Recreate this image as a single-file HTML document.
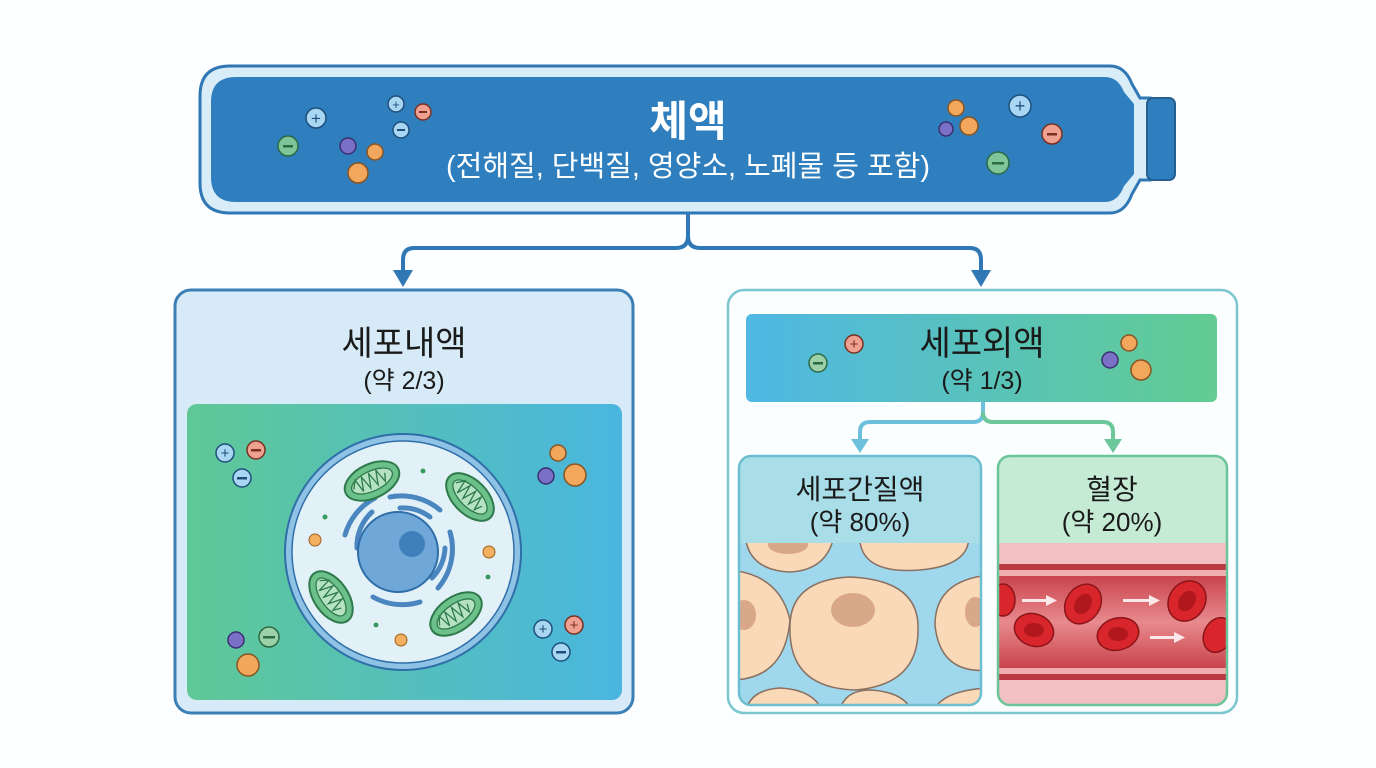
<!DOCTYPE html>
<html><head><meta charset="utf-8"><style>
html,body{margin:0;padding:0;background:#fdfeff;}
svg{display:block}
text{font-family:"Liberation Sans","Noto Sans CJK KR",sans-serif;}
</style></head><body>
<svg width="1376" height="768" viewBox="0 0 1376 768" xmlns="http://www.w3.org/2000/svg">
<defs>
<linearGradient id="gl" x1="0" x2="1"><stop offset="0" stop-color="#5fc896"/><stop offset="1" stop-color="#4ab6e0"/></linearGradient>
<linearGradient id="gh" x1="0" x2="1"><stop offset="0" stop-color="#4fb8e4"/><stop offset="1" stop-color="#62cc92"/></linearGradient>
<linearGradient id="gv" x1="0" y1="0" x2="0" y2="1"><stop offset="0" stop-color="#c9444c"/><stop offset="0.5" stop-color="#e88a8e"/><stop offset="1" stop-color="#c9444c"/></linearGradient>
<clipPath id="cellclip"><rect x="739" y="543" width="242" height="162"/></clipPath>
</defs>

<!-- Banner -->
<path d="M230,66 H1110 Q1125,66 1132,84 L1140,98 H1150 V180 H1140 L1132,194 Q1125,213 1110,213 H230 Q200,213 200,183 V96 Q200,66 230,66Z" fill="#d8edf8" stroke="#2f78b5" stroke-width="3"/>
<path d="M236,77 H1105 Q1118,77 1124,92 L1134,104 V174 L1124,186 Q1118,202 1105,202 H236 Q211,202 211,177 V102 Q211,77 236,77Z" fill="#2f7fbf"/>
<rect x="1147" y="98" width="28" height="82" rx="6" fill="#2f7fbf" stroke="#245f90" stroke-width="2"/>
<text x="688" y="136" text-anchor="middle" font-size="42" font-weight="bold" fill="#fff">체액</text>
<text x="688" y="176" text-anchor="middle" font-size="29" fill="#fff">(전해질, 단백질, 영양소, 노폐물 등 포함)</text>

<g stroke-width="1.5">
<circle cx="316" cy="118" r="10" fill="#a9d6f2" stroke="#1d4f7a"/><text x="316" y="124" text-anchor="middle" font-size="17" fill="#1d4f7a">+</text>
<circle cx="288" cy="146" r="10" fill="#7ec59a" stroke="#2c6a44"/><rect x="283" y="145" width="10" height="2.5" fill="#2c6a44"/>
<circle cx="396" cy="104" r="8" fill="#a9d6f2" stroke="#1d4f7a"/><text x="396" y="109" text-anchor="middle" font-size="13" fill="#1d4f7a">+</text>
<circle cx="423" cy="112" r="8" fill="#f0a090" stroke="#7a3020"/><rect x="419" y="111" width="8" height="2" fill="#7a3020"/>
<circle cx="401" cy="130" r="8" fill="#a9d6f2" stroke="#1d4f7a"/><rect x="397" y="129" width="8" height="2" fill="#1d4f7a"/>
<circle cx="348" cy="146" r="8" fill="#7a70c8" stroke="#3a3070"/>
<circle cx="375" cy="152" r="8" fill="#f2a85c" stroke="#8a5420"/>
<circle cx="358" cy="173" r="10" fill="#f2a85c" stroke="#8a5420"/>
<circle cx="956" cy="108" r="8" fill="#f2a85c" stroke="#8a5420"/>
<circle cx="946" cy="129" r="7" fill="#7a70c8" stroke="#3a3070"/>
<circle cx="969" cy="126" r="9" fill="#f2a85c" stroke="#8a5420"/>
<circle cx="1020" cy="106" r="11" fill="#a9d6f2" stroke="#1d4f7a"/><text x="1020" y="112" text-anchor="middle" font-size="18" fill="#1d4f7a">+</text>
<circle cx="1052" cy="134" r="10" fill="#f0a090" stroke="#7a3020"/><rect x="1047" y="133" width="10" height="2.5" fill="#7a3020"/>
<circle cx="998" cy="163" r="11" fill="#7ec59a" stroke="#2c6a44"/><rect x="992" y="162" width="12" height="2.5" fill="#2c6a44"/>
</g>

<!-- connector top -->
<path d="M688,213 V236 Q688,248 676,248 H414 Q403,248 403,260 V272" fill="none" stroke="#2f78b5" stroke-width="4"/>
<path d="M688,236 Q688,248 700,248 H970 Q981,248 981,260 V272" fill="none" stroke="#2f78b5" stroke-width="4"/>
<path d="M393,270 L413,270 L403,287Z" fill="#2f78b5"/>
<path d="M971,270 L991,270 L981,287Z" fill="#2f78b5"/>

<!-- Left panel -->
<rect x="175" y="290" width="458" height="423" rx="16" fill="#d6ebf7" stroke="#3a7fb6" stroke-width="3"/>
<text x="404" y="355" text-anchor="middle" font-size="34" fill="#1a1a1a">세포내액</text>
<text x="404" y="389" text-anchor="middle" font-size="25" fill="#1a1a1a">(약 2/3)</text>
<rect x="187" y="404" width="435" height="296" rx="10" fill="url(#gl)"/>
<ellipse cx="403" cy="552" rx="118" ry="118" fill="#8fc3e6" stroke="#2f6ea8" stroke-width="2"/>
<ellipse cx="403" cy="552" rx="111" ry="111" fill="#e2f1f8" stroke="#2f6ea8" stroke-width="1.5"/>
<g fill="none" stroke="#4a86c0" stroke-width="5" stroke-linecap="round">
<path d="M345,535 A60,60 0 0 1 375,498"/><path d="M357,548 A46,46 0 0 1 372,512"/>
<path d="M390,497 A60,60 0 0 1 440,510"/><path d="M400,508 A46,46 0 0 1 430,517"/>
<path d="M450,532 A60,60 0 0 1 438,588"/><path d="M445,548 A46,46 0 0 1 432,578"/>
<path d="M420,602 A60,60 0 0 1 373,597"/><path d="M410,588 A46,46 0 0 1 380,586"/>
</g>
<circle cx="398" cy="552" r="40" fill="#6fa8d8" stroke="#2f6ea8" stroke-width="2"/>
<circle cx="412" cy="544" r="13" fill="#3f7fbb"/>
<g fill="#6cc08a" stroke="#2e7a4a" stroke-width="2">
<ellipse cx="372" cy="481" rx="29" ry="17" transform="rotate(-25 372 481)"/>
<ellipse cx="470" cy="497" rx="29" ry="17" transform="rotate(45 470 497)"/>
<ellipse cx="331" cy="597" rx="29" ry="17" transform="rotate(55 331 597)"/>
<ellipse cx="456" cy="614" rx="29" ry="17" transform="rotate(-35 456 614)"/>
</g>
<g fill="#b6e2c4" stroke="#2e7a4a" stroke-width="1.3">
<g transform="rotate(-25 372 481)"><ellipse cx="372" cy="481" rx="22" ry="10"/><path d="M352,481 l5,-8 l3,14 l4,-14 l4,14 l4,-14 l4,14 l4,-14 l4,14 l3,-8" fill="none"/></g>
<g transform="rotate(45 470 497)"><ellipse cx="470" cy="497" rx="22" ry="10"/><path d="M450,497 l5,-8 l3,14 l4,-14 l4,14 l4,-14 l4,14 l4,-14 l4,14 l3,-8" fill="none"/></g>
<g transform="rotate(55 331 597)"><ellipse cx="331" cy="597" rx="22" ry="10"/><path d="M311,597 l5,-8 l3,14 l4,-14 l4,14 l4,-14 l4,14 l4,-14 l4,14 l3,-8" fill="none"/></g>
<g transform="rotate(-35 456 614)"><ellipse cx="456" cy="614" rx="22" ry="10"/><path d="M436,614 l5,-8 l3,14 l4,-14 l4,14 l4,-14 l4,14 l4,-14 l4,14 l3,-8" fill="none"/></g>
</g>
<g fill="#f2b060" stroke="#a06020" stroke-width="1"><circle cx="315" cy="540" r="6"/><circle cx="489" cy="552" r="6"/><circle cx="401" cy="640" r="6"/></g>
<g fill="#3a9a60"><circle cx="423" cy="471" r="2.5"/><circle cx="325" cy="517" r="2.5"/><circle cx="488" cy="577" r="2.5"/><circle cx="376" cy="625" r="2.5"/></g>
<g stroke-width="1.5">
<circle cx="225" cy="453" r="9" fill="#a9d6f2" stroke="#1d4f7a"/><text x="225" y="458" text-anchor="middle" font-size="15" fill="#1d4f7a">+</text>
<circle cx="256" cy="450" r="9" fill="#f0a090" stroke="#7a3020"/><rect x="251" y="449" width="10" height="2.5" fill="#7a3020"/>
<circle cx="242" cy="478" r="9" fill="#a9d6f2" stroke="#1d4f7a"/><rect x="237" y="477" width="10" height="2.5" fill="#1d4f7a"/>
<circle cx="558" cy="453" r="8" fill="#f2a85c" stroke="#8a5420"/>
<circle cx="546" cy="476" r="8" fill="#7a70c8" stroke="#3a3070"/>
<circle cx="575" cy="475" r="11" fill="#f2a85c" stroke="#8a5420"/>
<circle cx="236" cy="640" r="8" fill="#7a70c8" stroke="#3a3070"/>
<circle cx="269" cy="637" r="10" fill="#9cd0a8" stroke="#2c6a44"/><rect x="263" y="636" width="12" height="2.5" fill="#2c6a44"/>
<circle cx="248" cy="665" r="11" fill="#f2a85c" stroke="#8a5420"/>
<circle cx="543" cy="629" r="9" fill="#a9d6f2" stroke="#1d4f7a"/><text x="543" y="634" text-anchor="middle" font-size="15" fill="#1d4f7a">+</text>
<circle cx="574" cy="625" r="9" fill="#f0a090" stroke="#7a3020"/><text x="574" y="630" text-anchor="middle" font-size="15" fill="#7a3020">+</text>
<circle cx="561" cy="652" r="9" fill="#a9d6f2" stroke="#1d4f7a"/><rect x="556" y="651" width="10" height="2.5" fill="#1d4f7a"/>
</g>

<!-- Right panel -->
<rect x="728" y="290" width="509" height="423" rx="16" fill="#fbfefe" stroke="#7cc6d0" stroke-width="2.5"/>
<rect x="746" y="314" width="471" height="88" rx="6" fill="url(#gh)"/>
<text x="982" y="355" text-anchor="middle" font-size="34" fill="#1a1a1a">세포외액</text>
<text x="982" y="389" text-anchor="middle" font-size="25" fill="#1a1a1a">(약 1/3)</text>
<g stroke-width="1.5">
<circle cx="818" cy="363" r="9" fill="#9cd0a8" stroke="#2c6a44"/><rect x="813" y="362" width="10" height="2.5" fill="#2c6a44"/>
<circle cx="854" cy="344" r="9" fill="#f0a090" stroke="#7a3020"/><text x="854" y="349" text-anchor="middle" font-size="15" fill="#7a3020">+</text>
<circle cx="1129" cy="343" r="8" fill="#f2a85c" stroke="#8a5420"/>
<circle cx="1110" cy="360" r="8" fill="#7a70c8" stroke="#3a3070"/>
<circle cx="1141" cy="370" r="10" fill="#f2a85c" stroke="#8a5420"/>
</g>
<path d="M983,402 V412 Q983,422 973,422 H870 Q860,422 860,432 V442" fill="none" stroke="#6cc0dc" stroke-width="4"/>
<path d="M851,439 L869,439 L860,453Z" fill="#6cc0dc"/>
<path d="M983,412 Q983,422 993,422 H1103 Q1113,422 1113,432 V442" fill="none" stroke="#6cc89a" stroke-width="4"/>
<path d="M1104,439 L1122,439 L1113,453Z" fill="#6cc89a"/>

<!-- sub 1 -->
<clipPath id="c1"><rect x="739" y="456" width="242" height="249" rx="12"/></clipPath>
<rect x="739" y="456" width="242" height="249" rx="12" fill="#a9dde8"/>
<g clip-path="url(#c1)"><g clip-path="url(#cellclip)">
<rect x="739" y="543" width="242" height="162" fill="#9fd7ec"/>
<g fill="#f9d9b8" stroke="#8a7060" stroke-width="1.5">
<path d="M745,530 Q745,570 790,572 Q830,570 835,530Z"/>
<path d="M860,530 Q855,575 920,570 Q975,565 968,530Z"/>
<path d="M730,570 Q780,575 790,620 Q785,680 730,680Z"/>
<path d="M790,630 Q788,580 850,577 Q920,580 918,630 Q918,685 855,690 Q790,688 790,630Z"/>
<path d="M990,575 Q935,580 935,625 Q940,675 990,670Z"/>
<path d="M745,720 Q745,690 780,688 Q820,690 825,720Z"/>
<path d="M838,720 Q840,690 870,690 Q910,692 915,720Z"/>
<path d="M930,720 Q935,690 990,688 V720Z"/>
</g>
<g fill="#d9a888"><ellipse cx="788" cy="545" rx="20" ry="9"/><ellipse cx="853" cy="610" rx="22" ry="17"/><ellipse cx="744" cy="615" rx="12" ry="15"/><ellipse cx="975" cy="612" rx="10" ry="15"/></g>
</g></g>
<rect x="739" y="456" width="242" height="249" rx="12" fill="none" stroke="#6bbfd0" stroke-width="2.5"/>
<text x="860" y="499" text-anchor="middle" font-size="28" fill="#1a1a1a">세포간질액</text>
<text x="860" y="531" text-anchor="middle" font-size="26" fill="#1a1a1a">(약 80%)</text>

<!-- sub 2 -->
<clipPath id="c2"><rect x="998" y="456" width="229" height="249" rx="12"/></clipPath>
<rect x="998" y="456" width="229" height="249" rx="12" fill="#c6ebd4"/>
<g clip-path="url(#c2)">
<rect x="998" y="543" width="229" height="162" fill="#f2c0c2"/>
<rect x="998" y="564" width="229" height="116" fill="#b93a40"/>
<rect x="998" y="570" width="229" height="104" fill="#f0b0b2"/>
<rect x="998" y="576" width="229" height="92" fill="url(#gv)"/>
<g fill="#d8262c" stroke="#8a1418" stroke-width="1.5">
<ellipse cx="1003" cy="600" rx="12" ry="16"/>
<ellipse cx="1083" cy="604" rx="17" ry="21" transform="rotate(35 1083 604)"/>
<ellipse cx="1034" cy="630" rx="20" ry="16" transform="rotate(20 1034 630)"/>
<ellipse cx="1118" cy="634" rx="21" ry="16" transform="rotate(-15 1118 634)"/>
<ellipse cx="1187" cy="601" rx="18" ry="21" transform="rotate(35 1187 601)"/>
<ellipse cx="1218" cy="635" rx="14" ry="18" transform="rotate(25 1218 635)"/>
</g>
<g fill="#b0181e"><ellipse cx="1083" cy="604" rx="8" ry="11" transform="rotate(35 1083 604)"/><ellipse cx="1034" cy="630" rx="10" ry="7"/><ellipse cx="1118" cy="634" rx="10" ry="7"/><ellipse cx="1187" cy="601" rx="8" ry="11" transform="rotate(35 1187 601)"/></g>
<g fill="#fbe8ea"><rect x="1022" y="599" width="26" height="3"/><path d="M1046,595 L1057,600.5 L1046,606Z"/>
<rect x="1123" y="599" width="28" height="3"/><path d="M1149,595 L1160,600.5 L1149,606Z"/>
<rect x="1150" y="636" width="26" height="3"/><path d="M1174,632 L1185,637.5 L1174,643Z"/></g>
</g>
<rect x="998" y="456" width="229" height="249" rx="12" fill="none" stroke="#6cc49a" stroke-width="2.5"/>
<text x="1112" y="499" text-anchor="middle" font-size="28" fill="#1a1a1a">혈장</text>
<text x="1112" y="531" text-anchor="middle" font-size="26" fill="#1a1a1a">(약 20%)</text>
</svg>
</body></html>
